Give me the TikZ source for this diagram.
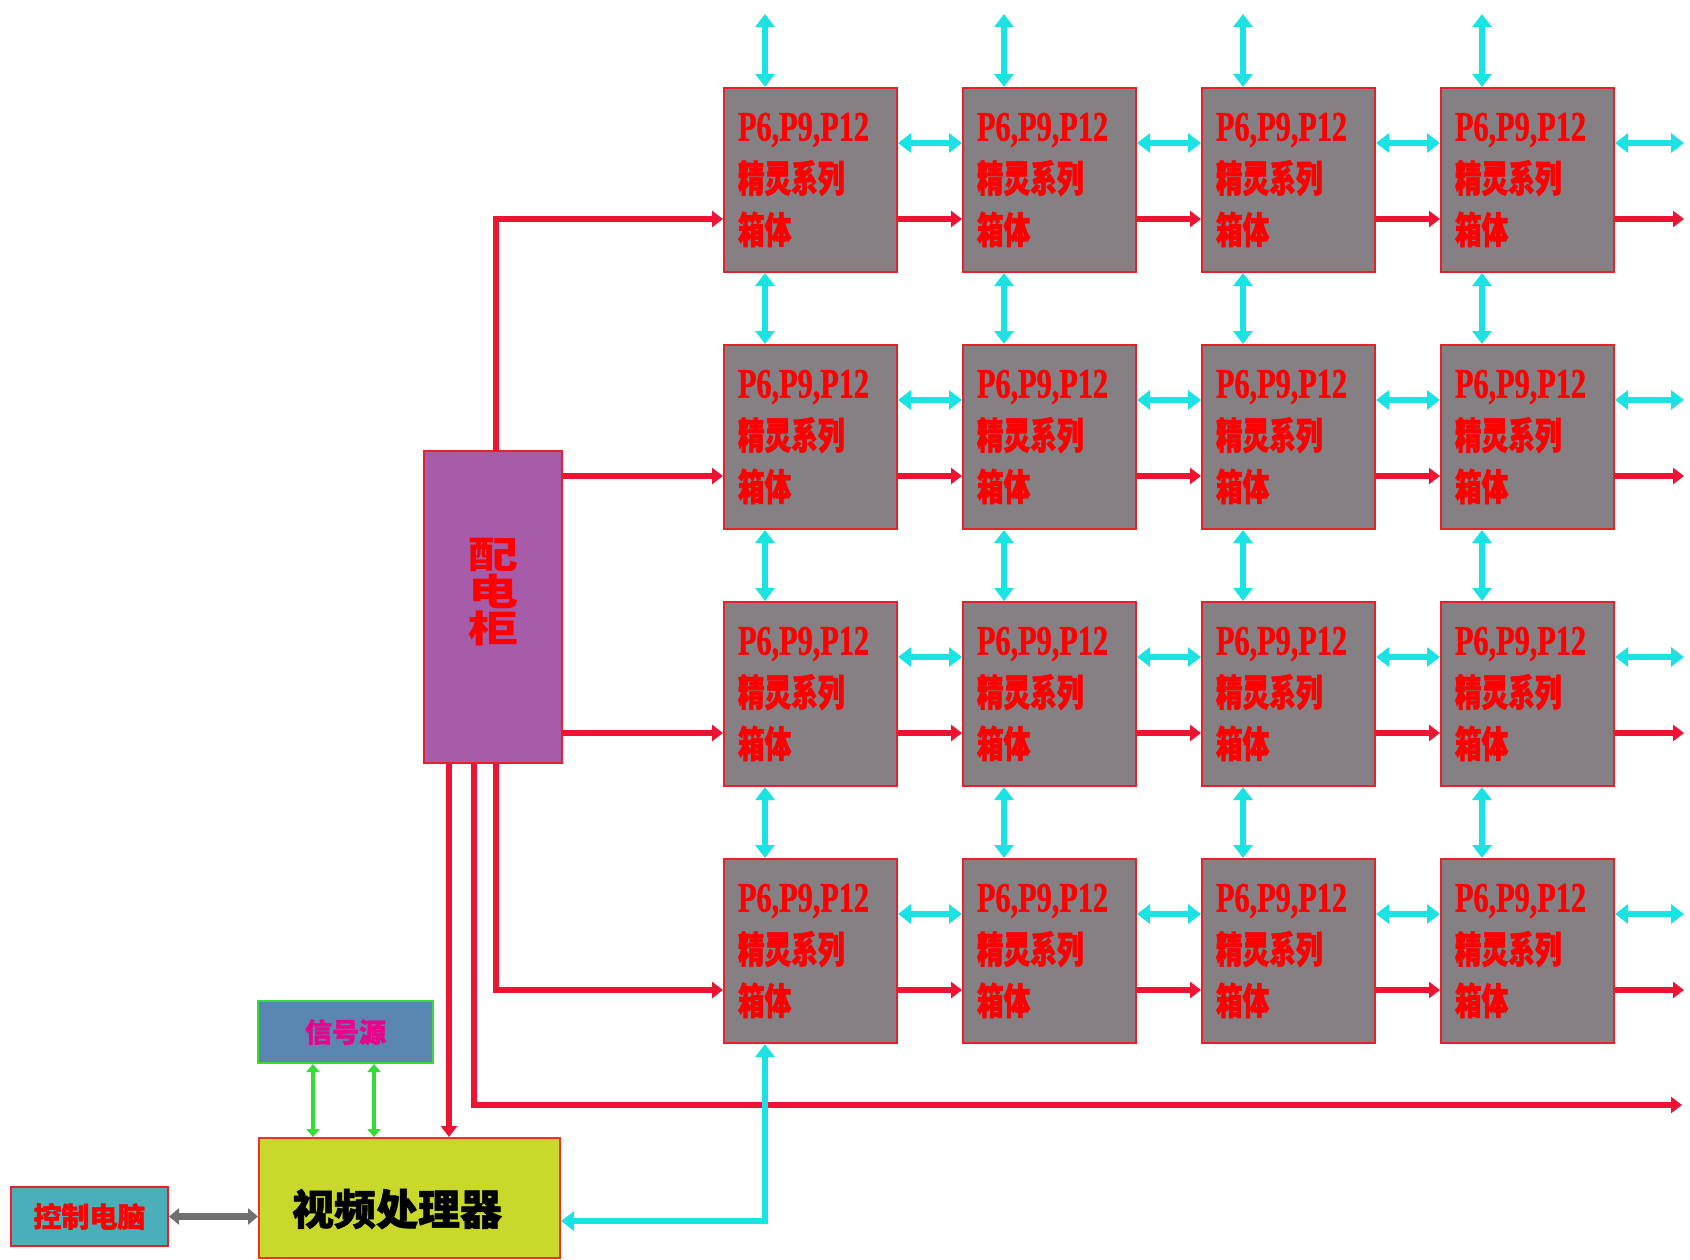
\documentclass[tikz,border=0pt]{standalone}
\usepackage{fontspec}
\usetikzlibrary{arrows.meta,positioning}
\setmainfont{Liberation Serif}
\newfontfamily\cjk[BoldFeatures={FakeBold=1.2}]{Noto Sans CJK SC}
\newfontfamily\cjktall[FakeStretch=0.72,BoldFeatures={FakeBold=1.5}]{Noto Sans CJK SC}
\newfontfamily\cjkwide[FakeStretch=1.35]{Noto Sans CJK SC}
\newfontfamily\latinf[FakeStretch=0.72,BoldFeatures={FakeBold=1}]{Liberation Serif}
\definecolor{BoxGray}{HTML}{858084}
\definecolor{Frame}{HTML}{E8202A}
\definecolor{Aqua}{HTML}{1CE3E3}
\definecolor{Wire}{HTML}{EE1233}
\definecolor{Cabinet}{HTML}{A65CA8}
\definecolor{SigBlue}{HTML}{5A86B2}
\definecolor{SigGreen}{HTML}{33DD33}
\definecolor{Proc}{HTML}{C9D92B}
\definecolor{PcTeal}{HTML}{4AAFB8}
\definecolor{LinkGray}{HTML}{707070}
\begin{document}
\begin{tikzpicture}[x=.5pt,y=-.5pt,
unit/.style={draw=Frame,line width=1pt,fill=BoxGray,minimum width=86.5pt,minimum height=92pt,inner xsep=7pt,inner ysep=0pt,text width=72.5pt,align=left,text=red,font=\cjktall\bfseries\fontsize{18.5}{25.75}\selectfont},
cya/.style={Aqua,line width=3pt,{Triangle[length=6.5pt,width=9.5pt]}-{Triangle[length=6.5pt,width=9.5pt]}},
pow/.style={Wire,line width=3pt,-{Triangle[length=5.5pt,width=8pt]}},
grn/.style={SigGreen,line width=2.2pt,{Triangle[length=4pt,width=6.5pt]}-{Triangle[length=4pt,width=6.5pt]}},
pcl/.style={LinkGray,line width=3.5pt,{Triangle[length=5pt,width=8pt]}-{Triangle[length=5pt,width=8pt]}}]
\useasboundingbox(0,0)rectangle(1690,1259);
\foreach \r/\y in {1/180,2/437,3/694,4/951}
\foreach \c/\x in {1/810.5,2/1049.5,3/1288.5,4/1527.5}
\node[unit](u-\r-\c)at(\x,\y){{\latinf\bfseries\fontsize{21}{25.75}\selectfont P6,P9,P12}\\精灵系列\\箱体};
\node[draw=Frame,line width=1pt,fill=Cabinet,minimum width=69pt,minimum height=156pt](cab)at(493,607){};
\node[text=red,align=center,font=\cjkwide\bfseries\fontsize{18.5}{18.5}\selectfont](cabtext)at([yshift=7.5pt]cab.center){配\\电\\柜};
\node[draw=SigGreen,line width=1pt,fill=SigBlue,minimum width=87.5pt,minimum height=31pt,text=magenta,font=\cjk\bfseries\fontsize{13.5}{16}\selectfont](sig)at(345.5,1032){信号源};
\node[draw=Frame!80!orange,line width=1pt,fill=Proc,minimum width=150.5pt,minimum height=60pt](vp)at(409.5,1198){};
\node[font=\cjk\bfseries\fontsize{21}{24}\selectfont](vptext)at([xshift=-6.25pt,yshift=-5.5pt]vp.center){视频处理器};
\node[draw=Frame,line width=1pt,fill=PcTeal,minimum width=78.5pt,minimum height=29.5pt,text=red,font=\cjk\bfseries\fontsize{14}{16}\selectfont](pc)at(89.5,1216.5){控制电脑};
% links between the cabinets of the wall
\foreach \r in {1,...,4}{
\foreach \c/\n in {1/2,2/3,3/4}{
\draw[cya]([yshift=18.5pt]u-\r-\c.east)--([yshift=18.5pt]u-\r-\n.west);
\draw[pow]([yshift=-19.5pt]u-\r-\c.east)--([yshift=-19.5pt]u-\r-\n.west);}
\coordinate(ce-\r)at([xshift=34.5pt,yshift=18.5pt]u-\r-4.east);
\coordinate(pe-\r)at([xshift=34.5pt,yshift=-19.5pt]u-\r-4.east);
\coordinate(fd-\r)at([yshift=-19.5pt]u-\r-1.west);
\draw[cya]([yshift=18.5pt]u-\r-4.east)--(ce-\r);
\draw[pow]([yshift=-19.5pt]u-\r-4.east)--(pe-\r);}
\foreach \c in {1,...,4}{
\coordinate(top-\c)at([xshift=-22.75pt,yshift=36.5pt]u-1-\c.north);
\draw[cya](top-\c)--([xshift=-22.75pt]u-1-\c.north);
\foreach \r/\n in {1/2,2/3,3/4}
\draw[cya]([xshift=-22.75pt]u-\r-\c.south)--([xshift=-22.75pt]u-\n-\c.north);}
% power feed
\draw[pow]([xshift=1.5pt]cab.north)|-(fd-1);
\draw[pow](cab.east|-fd-2)--(fd-2);
\draw[pow](cab.east|-fd-3)--(fd-3);
\draw[pow]([xshift=1.5pt]cab.south)|-(fd-4);
\coordinate(busend)at(1682,1105);
\draw[pow]([xshift=-9.5pt]cab.south)|-(busend);
\draw[pow]([xshift=-22pt]cab.south)--([xshift=-22pt]cab.south|-vp.north);
% signal
\foreach \s in {-16.25,14.25}
\draw[grn]([xshift=\s pt]sig.south)--([xshift=\s pt]sig.south|-vp.north);
\draw[pcl](pc.east)--(pc.east-|vp.west);
\draw[cya]([yshift=-11.5pt]vp.east)-|([xshift=-22.75pt]u-4-1.south);
\end{tikzpicture}
\end{document}
